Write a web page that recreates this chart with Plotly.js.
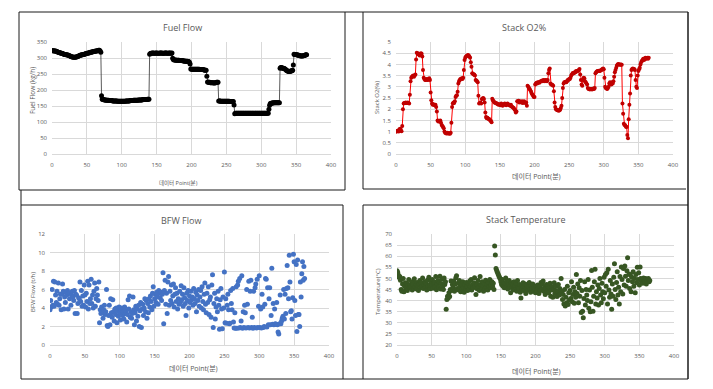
<!DOCTYPE html>
<html><head><meta charset="utf-8">
<script src="https://cdn.plot.ly/plotly-3.0.1.min.js"></script>
<style>html,body{margin:0;padding:0;background:#fff}#c{width:713px;height:389px}</style>
</head><body><div id="c"></div>
<script>
// ---- data ----
const fuelFlow = [
323,323,323,322,322,322,321,320,319,318,
317,317,316,315,315,314,313,312,311,311,
310,310,309,309,308,307,306,305,304,303,
303,302,302,302,303,303,304,305,306,307,
308,309,309,310,310,311,312,312,313,314,
315,315,316,316,317,318,318,319,319,320,
320,321,321,322,322,323,323,324,324,322,
318,182,171,170,170,169,169,169,168,168,
168,168,167,167,167,167,167,166,166,166,166,166,166,166,165,165,165,165,165,165,
165,165,165,165,165,165,166,166,166,166,166,166,167,167,167,167,167,168,168,168,
168,168,168,168,169,169,169,169,169,169,170,170,170,170,170,170,170,171,171,171,
312,
314,315,315,316,316,315,315,315,316,316,315,315,315,315,316,316,316,315,315,315,315,316,316,316,315,315,315,316,316,315,315,316,
299,
295,294,294,294,293,293,293,293,293,292,292,292,292,292,291,291,
291,290,290,290,290,289,289,287,281,266,
265,265,265,265,265,265,265,265,265,265,265,265,264,264,264,264,264,263,263,262,262,262,
243,
225,224,224,224,223,223,223,223,223,222,222,223,223,224,224,224,
166,166,166,165,165,165,165,165,165,165,165,165,165,165,165,165,164,164,164,164,164,164,
153,126,
127,127,127,127,127,127,127,127,127,127,127,127,127,127,127,127,127,127,127,127,127,127,127,127,
127,127,127,127,127,127,127,127,127,127,127,127,127,127,127,127,127,127,127,127,127,127,127,127,
140,152,
158,158,159,159,159,160,160,160,160,160,160,160,160,160,
268,
270,270,269,268,268,267,266,
264,262,260,259,258,258,258,259,259,260,262,
278,312,
311,311,310,310,309,309,308,307,307,306,306,306,307,307,308,309,310,310
];

const stackO2 = [
1.0,1.0,1.03,1.05,1.0,1.1,1.13,1.05,1.02,1.25,
2.0,2.25,2.28,2.28,2.3,2.28,2.28,2.3,2.28,2.25,
2.65,3.25,3.4,3.45,3.48,3.5,3.45,3.5,3.55,4.22,
4.52,4.5,4.45,4.48,4.4,4.45,4.5,4.48,4.35,3.75,
3.4,3.35,3.3,3.3,3.35,3.32,3.3,3.35,3.38,3.3,
2.75,2.4,2.25,2.2,2.22,2.2,2.18,2.2,2.1,1.9,
1.5,1.45,1.48,1.45,1.5,1.4,1.3,1.25,1.2,1.15,
1.0,0.95,0.93,0.92,0.95,0.92,0.93,0.92,0.9,0.95,
1.4,2.1,2.25,2.3,2.28,2.35,2.55,2.6,2.62,2.78,
3.15,3.25,3.3,3.35,3.35,3.38,3.35,3.4,3.75,4.2,
4.3,4.35,4.38,4.4,4.42,4.4,4.35,4.3,4.1,3.9,
3.6,3.58,3.55,3.55,3.5,3.3,3.28,3.25,3.2,2.6,
2.25,2.28,2.3,2.25,2.45,2.48,2.5,2.45,2.3,1.85,
1.65,1.6,1.62,1.58,1.55,1.55,1.5,1.48,1.42,2.47,
2.4,2.35,2.3,2.3,2.28,2.25,2.25,2.22,2.2,2.22,
2.2,2.18,2.25,2.2,2.15,2.2,2.22,2.25,2.2,2.18,
2.2,2.25,2.22,2.2,2.18,2.15,2.2,2.12,2.1,2.08,
2.05,2.0,1.95,1.85,1.9,2.35,2.35,2.38,2.3,2.35,
2.32,2.3,2.35,2.28,2.3,2.35,2.3,2.28,2.3,2.15,
3.05,3.0,2.95,2.9,2.85,2.78,2.7,2.65,2.6,2.55,
2.55,3.1,3.15,3.18,3.15,3.2,3.2,3.18,3.22,3.25,
3.25,3.28,3.25,3.3,3.28,3.25,3.3,3.28,3.25,3.3,
3.6,3.75,3.82,3.15,3.1,3.1,3.08,3.05,2.8,2.3,
2.1,2.0,1.98,1.95,1.95,1.93,1.95,1.98,2.05,2.15,
2.5,2.95,3.15,3.2,3.2,3.22,3.2,3.25,3.3,3.3,
3.35,3.35,3.4,3.5,3.55,3.6,3.62,3.6,3.65,3.65,
3.7,3.68,3.7,3.72,3.75,3.8,3.55,3.3,3.1,3.05,
3.3,3.4,3.38,3.25,3.2,3.15,3.1,2.95,2.9,2.9,
2.88,2.9,2.9,2.88,2.9,2.92,2.9,2.95,3.6,3.65,
3.68,3.7,3.7,3.72,3.7,3.72,3.75,3.75,3.8,3.82,
3.78,3.4,3.0,2.95,2.92,2.9,2.95,3.0,3.15,3.2,
3.15,3.1,3.2,3.15,3.25,3.45,3.65,3.75,3.85,3.95,
4.0,4.02,4.0,4.0,3.98,4.0,3.98,2.25,1.8,1.35,
1.3,1.28,1.22,1.2,0.85,0.7,1.55,2.2,2.7,3.5,
3.75,3.8,3.82,3.78,3.8,3.75,3.3,3.0,2.95,3.5,
3.7,3.78,3.85,4.0,4.1,4.15,4.2,4.25,4.2,4.22,
4.3,4.25,4.28,4.3,4.25,4.3
];

const bfwFlow = [
3.8,4.8,4.1,6.0,4.3,6.9,4.2,6.8,5.4,4.6,
5.8,4.4,6.7,4.3,5.0,5.5,3.8,5.5,6.6,5.8,
3.9,5.2,4.6,5.7,5.4,5.9,3.9,5.6,5.0,5.6,
4.3,5.4,5.8,5.2,4.8,5.9,3.4,5.5,5.4,3.4,
4.5,5.1,5.0,6.8,4.7,5.9,4.2,5.3,4.3,6.5,
5.4,4.1,5.6,4.7,6.9,3.9,6.5,4.5,5.0,7.1,
4.5,5.4,4.0,5.8,6.7,4.2,5.0,6.1,5.4,4.8,
6.8,2.4,3.8,3.4,4.1,3.6,2.9,3.8,4.3,3.3,
3.6,6.0,2.1,2.0,3.2,4.3,2.2,5.0,3.5,3.0,
4.9,3.6,2.6,3.9,3.3,4.0,2.4,3.7,3.1,4.1,
3.5,2.7,3.8,4.0,3.2,3.6,2.8,4.1,3.4,3.7,
2.5,3.3,4.9,3.9,5.3,3.0,3.6,2.9,3.4,5.2,
3.8,2.2,3.5,4.2,2.6,3.9,3.1,4.3,2.0,3.7,
4.6,1.9,3.9,4.4,3.2,4.0,5.0,3.6,4.8,2.9,
4.5,3.5,5.0,4.1,5.3,4.7,3.8,5.6,6.3,4.2,
5.0,5.5,4.6,5.7,5.2,4.4,5.9,5.6,5.1,5.7,
4.8,5.5,7.8,2.3,5.9,7.0,4.4,5.6,3.4,6.8,
7.4,4.3,5.8,4.8,6.5,4.5,5.3,6.6,4.1,5.5,
6.2,4.7,5.6,3.9,5.0,4.4,5.8,4.6,6.4,4.9,
5.5,4.2,6.2,5.1,4.5,3.2,5.6,4.8,5.9,4.0,
5.3,4.6,5.8,4.9,5.2,4.3,6.1,5.0,4.5,5.7,
3.6,5.4,4.8,6.0,4.2,5.2,5.9,4.0,6.3,4.7,
3.8,5.5,6.7,4.4,3.5,5.6,4.6,6.3,3.3,4.9,
5.2,3.0,6.5,7.6,1.9,4.5,5.6,2.8,4.1,5.0,
3.6,5.8,4.3,1.7,4.9,6.1,3.9,1.75,5.2,4.0,
7.9,2.4,5.0,2.35,4.3,5.5,3.8,2.3,2.35,5.9,
4.5,3.8,6.1,2.5,1.85,3.5,1.8,6.3,1.8,6.5,
6.9,1.85,7.2,1.9,2.6,7.5,1.8,3.6,1.9,4.3,
3.5,1.85,6.0,4.4,1.9,6.9,1.85,5.8,7.0,1.9,
3.0,1.8,5.8,1.9,6.2,6.6,1.85,7.1,1.9,4.2,
7.5,1.9,3.9,1.85,5.5,4.1,1.9,2.0,4.4,7.2,
7.1,1.95,6.2,2.2,5.0,6.2,2.2,3.2,8.3,2.25,
4.5,2.2,3.9,2.3,2.25,4.6,2.2,1.4,1.2,2.3,
5.4,2.3,2.6,2.9,3.1,6.0,2.8,5.5,3.4,6.1,
8.6,6.2,5.0,9.7,6.8,3.6,3.7,2.8,5.1,9.8,
9.0,4.8,3.2,8.7,1.45,9.2,3.3,3.3,2.0,6.8,
5.2,7.7,9.0,7.0,8.5,7.2
];

const stackTemp = [
53.5,52.8,51.5,50.5,50.8,49.2,45.0,44.2,47.5,50.0,
44.0,46.5,48.0,45.5,47.8,44.5,46.8,49.5,45.8,47.0,
46.0,48.5,44.8,47.2,45.5,49.8,46.3,47.9,45.2,48.2,
46.8,44.5,47.5,49.0,45.8,48.0,46.2,50.2,45.5,47.3,
48.5,46.0,47.8,44.8,49.2,46.5,50.5,47.0,45.3,48.8,
46.8,49.5,45.6,47.8,48.4,46.2,50.8,44.9,47.5,49.0,
46.0,48.2,51.0,45.2,47.6,49.6,46.4,45.0,50.2,47.2,
48.5,36.1,40.5,42.0,41.2,43.5,41.8,45.0,48.8,44.5,
47.2,46.0,48.8,44.2,47.5,50.3,51.2,45.5,47.8,44.8,
49.0,46.2,44.0,47.5,45.3,48.5,46.0,43.8,47.2,45.5,
48.2,46.5,44.5,47.8,45.0,48.8,46.2,49.5,44.8,47.0,
45.8,48.0,50.3,46.5,42.8,47.5,45.2,49.0,46.0,44.5,
50.8,47.2,45.5,48.5,46.8,44.2,47.8,45.5,49.2,46.0,
47.5,44.8,48.0,46.2,49.5,45.8,47.0,48.5,46.5,47.8,
45.0,64.6,60.5,54.5,53.6,52.8,52.0,51.2,50.5,49.8,
48.5,47.2,49.5,46.5,48.2,45.8,47.8,50.2,46.0,48.8,
45.2,47.5,49.0,46.2,43.5,48.0,45.8,47.2,44.8,48.5,
46.5,45.0,47.8,44.2,49.0,46.0,45.5,47.2,43.8,41.2,
46.8,45.2,48.0,44.5,46.5,47.5,43.2,45.8,47.0,44.8,
46.2,48.2,45.0,43.8,46.8,45.5,47.5,44.2,46.0,45.2,
43.5,46.5,44.8,47.0,45.5,43.2,46.2,44.5,48.2,45.0,
47.5,48.8,44.2,46.0,42.8,45.5,47.2,44.0,46.5,43.5,
45.8,47.8,42.0,44.8,46.2,41.5,45.0,48.0,43.2,44.5,
46.5,41.8,44.0,47.2,42.5,45.5,43.0,50.0,44.2,40.5,
42.8,38.5,45.0,37.6,41.5,39.0,46.5,38.2,43.5,40.2,
44.5,41.0,48.5,39.5,42.8,46.0,38.8,44.0,41.5,51.8,
43.2,47.5,39.0,45.8,42.0,49.0,34.6,44.5,35.2,32.3,
41.0,48.5,38.0,45.0,42.5,40.0,49.5,36.5,44.8,35.0,
39.5,53.6,46.0,35.2,42.0,48.5,54.1,38.5,44.0,41.2,
47.0,38.0,45.5,50.0,42.5,39.0,47.8,44.0,40.8,50.5,
43.5,51.8,46.5,52.5,38.5,54.1,44.8,41.5,49.0,43.0,
36.1,47.5,42.0,50.5,56.6,45.0,40.5,48.2,53.0,42.5,
46.0,38.5,50.8,44.0,55.1,49.5,43.0,54.5,47.0,55.6,
51.0,46.5,53.5,59.3,49.0,52.0,45.5,51.5,44.0,50.5,
48.5,53.0,46.5,50.0,43.5,51.8,48.0,55.0,49.5,52.5,
47.0,55.1,50.0,48.5,49.5,47.8,50.2,49.0,48.2,50.0,
47.5,49.2,48.8,50.0,48.5,49.0
];

const chartTitles = ["Fuel Flow", "Stack O2%", "BFW Flow", "Stack Temperature"];
const yTitles = ["Fuel Flow (kg/h)", "Stack O2(%)", "BFW Flow (t/h)", "Temperature(°C)"];
const xTitle = "데이터 Point(분)";

// ---- layout helpers ----
const W = 713, H = 389;
const px = v => v / W, py = v => 1 - v / H;
const idx = arr => arr.map((_, i) => i);
const FONT = "Open Sans, Noto Sans CJK KR, sans-serif";
const tickFont = {family: FONT, size: 6, color: '#595959'};

function xAx(l, r, anchor) {
  return {domain: [px(l), px(r)], range: [0, 400], dtick: 50, anchor: anchor,
    showgrid: true, gridcolor: '#d9d9d9', gridwidth: 1, zeroline: false,
    showline: true, linecolor: '#d9d9d9', ticks: '', tickfont: tickFont,
    ticklabelstandoff: 5, fixedrange: true};
}
function yAx(t, b, range, dtick, anchor) {
  return {domain: [py(b), py(t)], range: range, dtick: dtick, anchor: anchor,
    showgrid: true, gridcolor: '#d9d9d9', gridwidth: 1, zeroline: false,
    showline: false, ticks: '', tickfont: tickFont, ticklabelstandoff: 4, fixedrange: true};
}

const traces = [
  {x: idx(fuelFlow), y: fuelFlow, xaxis: 'x', yaxis: 'y', type: 'scatter', mode: 'lines+markers',
   line: {color: '#303030', width: 0.8}, marker: {color: '#000', size: 5}},
  {x: idx(stackO2), y: stackO2, xaxis: 'x2', yaxis: 'y2', type: 'scatter', mode: 'lines+markers',
   line: {color: '#ff0000', width: 1}, marker: {color: '#c00000', size: 4}},
  {x: idx(bfwFlow), y: bfwFlow, xaxis: 'x3', yaxis: 'y3', type: 'scatter', mode: 'markers',
   marker: {color: '#4472c4', size: 5}},
  {x: idx(stackTemp), y: stackTemp, xaxis: 'x4', yaxis: 'y4', type: 'scatter', mode: 'markers',
   marker: {color: '#375623', size: 5}}
];

function ann(text, x, y, size, angle) {
  return {text: text, x: px(x), y: py(y), xref: 'paper', yref: 'paper', showarrow: false,
    xanchor: 'center', yanchor: 'middle', textangle: angle || 0,
    font: {family: FONT, size: size, color: '#595959'}};
}

const annotations = [
  ann(chartTitles[0], 182, 27, 9), ann(chartTitles[1], 524, 27, 9),
  ann(chartTitles[2], 181, 220, 9), ann(chartTitles[3], 526, 219, 9),
  ann(xTitle, 178, 183, 5.5), ann(xTitle, 536, 177, 7),
  ann(xTitle, 193, 368, 7), ann(xTitle, 536, 371, 7),
  ann(yTitles[0], 33, 91, 6.5, -90), ann(yTitles[1], 377, 98, 6, -90),
  ann(yTitles[2], 33, 292, 6, -90), ann(yTitles[3], 378, 292, 6, -90)
];

function ln(x0, y0, x1, y1, w) {
  return {type: 'line', xref: 'paper', yref: 'paper', x0: px(x0), y0: py(y0), x1: px(x1), y1: py(y1),
    line: {color: '#1a1a1a', width: w || 1}};
}
const shapes = [
  ln(19, 12, 345, 12), ln(19, 12, 19, 190), ln(19, 190, 345, 190), ln(345, 12, 345, 190),
  ln(345, 12, 688, 12), ln(363, 12, 363, 189), ln(363, 189, 686, 189), ln(688, 12, 688, 205, 1.5),
  ln(21, 190, 21, 379), ln(21, 205, 343, 205), ln(21, 379, 363, 379), ln(343, 205, 343, 379),
  ln(363, 205, 688, 205), ln(363, 205, 363, 379), ln(363, 379, 688, 379), ln(688, 205, 688, 379, 1.5)
];

const layout = {
  width: W, height: H, margin: {l: 0, r: 0, t: 0, b: 0}, showlegend: false,
  paper_bgcolor: '#fff', plot_bgcolor: '#fff',
  xaxis: xAx(52, 331, 'y'), yaxis: yAx(42, 154, [0, 350], 50, 'x'),
  xaxis2: xAx(396, 673, 'y2'), yaxis2: yAx(42, 154, [0, 5], 0.5, 'x2'),
  xaxis3: xAx(50, 329, 'y3'), yaxis3: yAx(234, 345, [0, 12], 2, 'x3'),
  xaxis4: xAx(397, 674, 'y4'), yaxis4: yAx(234, 345, [20, 70], 5, 'x4'),
  annotations: annotations, shapes: shapes
};

Plotly.newPlot('c', traces, layout, {staticPlot: true, displayModeBar: false});
</script></body></html>
